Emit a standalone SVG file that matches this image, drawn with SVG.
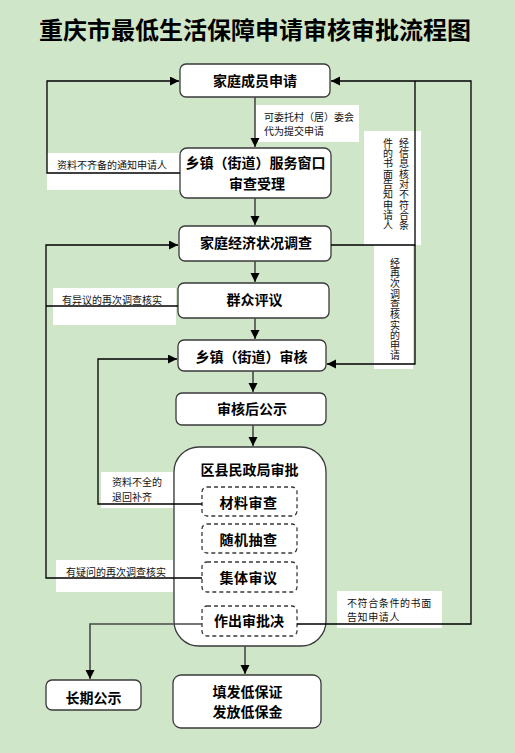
<svg xmlns="http://www.w3.org/2000/svg" width="515" height="753" viewBox="0 0 515 753">
<style>
.bg{fill:#cfe6c9}
.nd{fill:#ffffff;stroke:#3a3a3a;stroke-width:1.3}
.ds{fill:#ffffff;stroke:#3a3a3a;stroke-width:1.3;stroke-dasharray:4,3}
.nt{font-family:"Noto Sans CJK SC","Noto Sans",sans-serif;font-weight:bold;font-size:14px;fill:#000;text-anchor:middle}
.lb{fill:#ffffff}
.lt{font-family:"Noto Sans CJK SC","Noto Sans",sans-serif;font-size:10px;fill:#111}
.vt{font-family:"Noto Sans CJK SC","Noto Sans",sans-serif;font-size:10px;fill:#111;writing-mode:vertical-rl;letter-spacing:0.3px}
.ln{fill:none;stroke:#000;stroke-width:1.3}
.mn{fill:none;stroke:#4a4a4a;stroke-width:1.6}
</style>
<defs>
<marker id="ah" markerUnits="userSpaceOnUse" markerWidth="10" markerHeight="10" refX="9" refY="4.5" orient="auto">
<path d="M0,0 L9,4.5 L0,9 z" fill="#000"/>
</marker>
</defs>
<rect class="bg" x="0" y="0" width="515" height="753"/>
<text x="255" y="39" font-family="'Noto Sans CJK SC',sans-serif" font-weight="bold" font-size="24" text-anchor="middle" fill="#000">重庆市最低生活保障申请审核审批流程图</text>

<g id="labels">
<rect class="lb" x="255" y="105" width="104" height="37"/>
<text class="lt" x="264" y="121">可委托村（居）委会</text>
<text class="lt" x="264" y="135">代为提交申请</text>
<rect class="lb" x="47" y="153" width="133" height="37"/>
<text class="lt" x="57" y="169">资料不齐备的通知申请人</text>
<rect class="lb" x="364" y="131" width="57" height="114"/>
<text class="vt" x="404" y="138">经信息核对不符合条</text>
<text class="vt" x="388" y="138">件的书面告知申请人</text>
<rect class="lb" x="374" y="245" width="39" height="124"/>
<text class="vt" x="395" y="258">经再次调查核实的申请</text>
<rect class="lb" x="53" y="288" width="123" height="37"/>
<text class="lt" x="62" y="304">有异议的再次调查核实</text>
<rect class="lb" x="101" y="472" width="72" height="36"/>
<text class="lt" x="112" y="486">资料不全的</text>
<text class="lt" x="112" y="500.5">退回补齐</text>
<rect class="lb" x="56" y="560" width="117" height="32"/>
<text class="lt" x="66" y="576">有疑问的再次调查核实</text>
<rect class="lb" x="337" y="591" width="105" height="37"/>
<text class="lt" x="347" y="607" letter-spacing="0.6">不符合条件的书面</text>
<text class="lt" x="347" y="621" letter-spacing="0.6">告知申请人</text>
</g>

<g id="n1"><rect class="nd" x="180" y="64" width="150" height="33" rx="6"/><text class="nt" x="255" y="86">家庭成员申请</text></g>
<g id="n2"><rect class="nd" x="180" y="148" width="151" height="50" rx="7"/><text class="nt" x="255.5" y="168" font-size="12.5">乡镇（街道）服务窗口</text><text class="nt" x="257" y="188.5">审查受理</text></g>
<g id="n3"><rect class="nd" x="179" y="226" width="152" height="35" rx="6"/><text class="nt" x="256" y="248">家庭经济状况调查</text></g>
<g id="n4"><rect class="nd" x="178" y="283" width="151" height="35" rx="6"/><text class="nt" x="254.5" y="305">群众评议</text></g>
<g id="n5"><rect class="nd" x="178" y="340" width="148" height="31" rx="6"/><text class="nt" x="251.5" y="362">乡镇（街道）审核</text></g>
<g id="n6"><rect class="nd" x="176" y="393" width="150" height="32" rx="6"/><text class="nt" x="252" y="414">审核后公示</text></g>
<g id="n7"><rect class="nd" x="174" y="447" width="152" height="199" rx="25"/><text class="nt" x="249.5" y="475">区县民政局审批</text>
<g id="n7a"><rect class="ds" x="202" y="487" width="95" height="29" rx="5"/><text class="nt" x="248.5" y="508" font-size="13" letter-spacing="0.5">材料审查</text></g>
<g id="n7b"><rect class="ds" x="202" y="524" width="95" height="29" rx="5"/><text class="nt" x="248.5" y="545" font-size="13" letter-spacing="0.5">随机抽查</text></g>
<g id="n7c"><rect class="ds" x="202" y="562" width="95" height="30" rx="5"/><text class="nt" x="248.5" y="583" font-size="13" letter-spacing="0.5">集体审议</text></g>
<g id="n7d"><rect class="ds" x="202" y="606" width="95" height="30" rx="5"/><text class="nt" x="249" y="626" font-size="11">作出审批决</text></g>
</g>
<g id="n8"><rect class="nd" x="46" y="680" width="95" height="30" rx="6"/><text class="nt" x="93.5" y="703">长期公示</text></g>
<g id="n9"><rect class="nd" x="173" y="675" width="148" height="53" rx="8"/><text class="nt" x="247.5" y="697">填发低保证</text><text class="nt" x="247.5" y="717">发放低保金</text></g>

<g id="connectors">
<path class="mn" d="M255,97 V147" marker-end="url(#ah)"/>
<path class="mn" d="M255,198 V225" marker-end="url(#ah)"/>
<path class="mn" d="M255,261 V282" marker-end="url(#ah)"/>
<path class="mn" d="M255,318 V339" marker-end="url(#ah)"/>
<path class="mn" d="M253,371 V392" marker-end="url(#ah)"/>
<path class="mn" d="M253,425 V446" marker-end="url(#ah)"/>
<path class="mn" d="M245,646 V674" marker-end="url(#ah)"/>
<path class="mn" d="M202,624 H90 V679" marker-end="url(#ah)"/>
<path class="ln" d="M297,624 H471 V81 H331" marker-end="url(#ah)"/>
<path class="ln" d="M180,173 H47 V81 H179" marker-end="url(#ah)"/>
<path class="ln" d="M331,245 H415 V81"/>
<path class="ln" d="M415,245 V364 H327" marker-end="url(#ah)"/>
<path class="ln" d="M178,306 H46"/>
<path class="ln" d="M202,578 H46 V245 H178" marker-end="url(#ah)"/>
<path class="ln" d="M202,504 H98 V359 H177" marker-end="url(#ah)"/>
</g>
</svg>
